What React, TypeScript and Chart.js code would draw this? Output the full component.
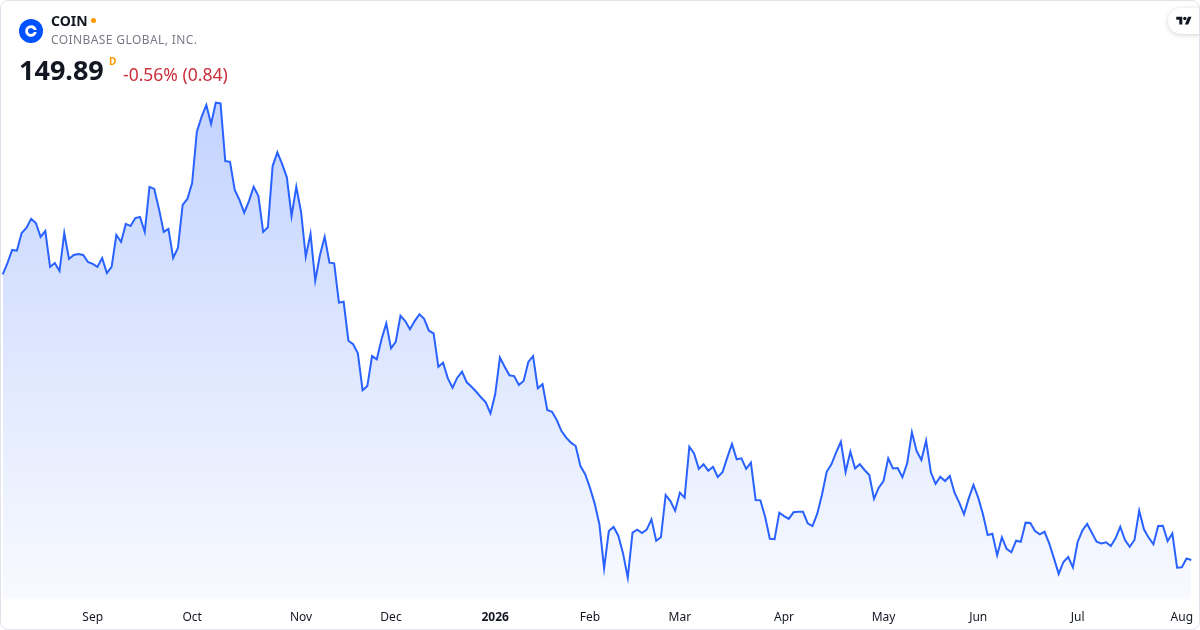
import React, { useEffect, useRef } from "react";
import { Chart, registerables } from "chart.js";

Chart.register(...registerables);

const ticker = "COIN";
const companyName = "COINBASE GLOBAL, INC.";
const lastPrice = "149.89";
const changeText = "-0.56% (0.84)";

const prices: number[] = [
  309.9, 316.2, 323.5, 323.1, 333.0, 335.8, 340.9, 338.6, 330.8, 334.1,
  314.0, 316.2, 311.7, 333.0, 318.5, 320.7, 321.3, 320.7, 316.8, 315.7,
  314.0, 319.0, 310.6, 314.0, 331.9, 328.0, 338.1, 336.9, 341.4, 342.0,
  333.6, 358.8, 357.7, 346.5, 333.6, 335.3, 319.0, 324.6, 348.7, 352.1,
  361.0, 389.7, 398.1, 404.7, 394.1, 406.0, 405.6, 373.3, 372.9, 357.1,
  351.5, 344.4, 350.9, 358.9, 353.7, 333.6, 336.2, 370.5, 378.2, 371.7,
  364.2, 342.5, 358.9, 344.9, 319.7, 332.5, 306.3, 320.7, 330.9, 316.4,
  316.0, 294.0, 294.5, 272.7, 270.7, 265.6, 244.9, 247.3, 264.1, 262.3,
  273.5, 282.4, 268.4, 272.1, 286.7, 283.7, 279.1, 283.7, 287.5, 284.9,
  278.3, 276.8, 258.1, 260.4, 251.6, 246.4, 252.0, 255.3, 249.4, 246.9,
  244.1, 241.0, 238.2, 232.0, 242.7, 263.2, 258.1, 253.3, 252.9, 247.9,
  250.1, 260.8, 264.1, 246.0, 248.3, 233.9, 232.9, 228.3, 222.1, 218.4,
  215.6, 213.7, 202.5, 197.9, 190.4, 181.6, 169.9, 145.2, 166.1, 168.4,
  163.5, 153.6, 140.0, 165.2, 166.9, 165.0, 166.9, 172.7, 160.7, 162.6,
  186.3, 182.9, 177.5, 187.6, 184.8, 213.3, 209.6, 200.9, 203.5, 199.9,
  202.1, 196.4, 199.0, 207.2, 214.9, 206.3, 206.8, 200.9, 204.4, 183.5,
  183.3, 174.1, 161.8, 161.5, 176.4, 174.5, 172.9, 176.6, 176.9, 176.9,
  170.4, 168.9, 175.7, 186.3, 199.3, 203.5, 210.2, 216.1, 199.2, 210.5,
  201.2, 203.5, 200.3, 197.5, 184.1, 190.4, 194.1, 206.8, 201.2, 201.4,
  196.2, 204.0, 221.4, 210.9, 205.9, 216.7, 199.0, 192.5, 196.5, 194.1,
  196.9, 187.6, 182.0, 175.5, 184.4, 191.9, 184.8, 175.5, 163.9, 164.6,
  152.5, 162.6, 156.1, 154.2, 160.7, 160.1, 170.8, 170.6, 166.1, 164.3,
  165.7, 159.2, 150.8, 142.1, 148.8, 151.6, 145.7, 160.0, 166.4, 170.1,
  165.2, 160.1, 159.2, 159.8, 157.7, 162.0, 168.5, 161.1, 157.3, 161.1,
  177.5, 167.1, 162.4, 158.7, 168.9, 169.1, 160.5, 164.8, 145.6, 145.8,
  150.73, 149.89,
];

const monthLabels: string[] = ["Sep", "Oct", "Nov", "Dec", "2026", "Feb", "Mar", "Apr", "May", "Jun", "Jul", "Aug"];
const monthStartIndex: number[] = [19, 40, 63, 82, 104, 124, 143, 165, 186, 206, 227, 249];

const yMin = 128.05;
const yMax = 463.49;

const FONT = "'Noto Sans', 'Open Sans', sans-serif";

export default function App() {
  const canvasRef = useRef<HTMLCanvasElement | null>(null);

  useEffect(() => {
    const canvas = canvasRef.current;
    if (!canvas) return;
    const chart = new Chart(canvas, {
      type: "line",
      data: {
        labels: prices.map((_, i) => String(i)),
        datasets: [
          {
            data: prices,
            borderColor: "#2962FF",
            borderWidth: 2,
            pointRadius: 0,
            pointHoverRadius: 0,
            tension: 0,
            fill: "start",
            backgroundColor: (ctx: any) => {
              const c = ctx.chart;
              const area = c.chartArea;
              if (!area) return "rgba(41,98,255,0.2)";
              const ys = c.scales.y;
              const top = ys.getPixelForValue(Math.max(...prices));
              const g = c.ctx.createLinearGradient(0, top, 0, area.bottom);
              g.addColorStop(0, "rgba(41,98,255,0.28)");
              g.addColorStop(1, "rgba(41,98,255,0.03)");
              return g;
            },
          },
        ],
      },
      options: {
        responsive: false,
        animation: false,
        events: [],
        layout: { autoPadding: false, padding: { left: 2.7, right: 8.7, top: 0, bottom: 6 } },
        plugins: { legend: { display: false }, tooltip: { enabled: false } },
        scales: {
          x: {
            type: "category",
            grid: { display: false, drawTicks: false },
            border: { display: false },
            afterFit: (scale: any) => {
              scale.paddingLeft = 0;
              scale.paddingRight = 0;
              scale.height = 25;
            },
            ticks: {
              autoSkip: false,
              maxRotation: 0,
              minRotation: 0,
              padding: 11,
              color: "#131722",
              font: (ctx: any) => ({
                family: FONT,
                size: 12,
                weight: ctx.tick && ctx.tick.label === "2026" ? "bold" : "normal",
              }),
              callback: (_v: any, index: number) => {
                const k = monthStartIndex.indexOf(index);
                return k >= 0 ? monthLabels[k] : "";
              },
            },
          },
          y: {
            display: false,
            min: yMin,
            max: yMax,
          },
        },
      },
    } as any);
    return () => chart.destroy();
  }, []);

  return (
    <div
      style={{
        position: "fixed",
        left: 0,
        top: 0,
        width: 1200,
        height: 630,
        background: "#ffffff",
        fontFamily: FONT,
      }}
    >
      <div
        style={{
          position: "absolute",
          inset: 0,
          border: "1px solid #e0e3eb",
          borderRadius: 8,
          boxSizing: "border-box",
          pointerEvents: "none",
          zIndex: 3,
        }}
      />
      <canvas
        ref={canvasRef}
        width={1200}
        height={630}
        style={{ position: "absolute", left: 0, top: 0, width: 1200, height: 630 }}
      />
      {/* header */}
      <div style={{ position: "absolute", left: 19, top: 19, width: 24, height: 24, zIndex: 2 }}>
        <svg width="24" height="24" viewBox="0 0 24 24">
          <circle cx="12" cy="12" r="12" fill="#0052FF" />
          <path
            d="M12 6.2a5.8 5.8 0 1 0 5.7 6.8h-2.9a3 3 0 1 1 0-2h2.9A5.8 5.8 0 0 0 12 6.2z"
            fill="#ffffff"
          />
        </svg>
      </div>
      <div
        style={{
          position: "absolute",
          left: 51,
          top: 11,
          fontSize: 14,
          fontWeight: 700,
          color: "#131722",
          lineHeight: "20px",
          zIndex: 2,
          whiteSpace: "nowrap",
        }}
      >
        {ticker}
      </div>
      <div
        style={{
          position: "absolute",
          left: 91,
          top: 18,
          width: 5,
          height: 5,
          borderRadius: 3,
          background: "#FF9800",
          zIndex: 2,
        }}
      />
      <div
        style={{
          position: "absolute",
          left: 51,
          top: 31,
          fontSize: 12,
          color: "#787B86",
          letterSpacing: 0.4,
          lineHeight: "18px",
          zIndex: 2,
          whiteSpace: "nowrap",
        }}
      >
        {companyName}
      </div>
      <div
        style={{
          position: "absolute",
          left: 19,
          top: 51,
          fontSize: 27,
          fontWeight: 700,
          color: "#131722",
          lineHeight: "37px",
          zIndex: 2,
          whiteSpace: "nowrap",
        }}
      >
        {lastPrice}
      </div>
      <div
        style={{
          position: "absolute",
          left: 109,
          top: 54,
          fontSize: 10,
          fontWeight: 700,
          color: "#FF9800",
          lineHeight: "14px",
          zIndex: 2,
        }}
      >
        D
      </div>
      <div
        style={{
          position: "absolute",
          left: 123,
          top: 62,
          fontSize: 17.5,
          color: "#CC2F3C",
          lineHeight: "24px",
          zIndex: 2,
          whiteSpace: "nowrap",
        }}
      >
        {changeText}
      </div>
      {/* logo pill */}
      <div
        style={{
          position: "absolute",
          left: 1168,
          top: 8,
          width: 44,
          height: 26,
          borderRadius: 13,
          background: "#ffffff",
          boxShadow: "0 1px 5px rgba(0,0,0,0.18)",
          zIndex: 2,
        }}
      >
        <svg
          width="16"
          height="12"
          viewBox="0 0 36 28"
          style={{ position: "absolute", left: 8, top: 7 }}
        >
          <path d="M14 22H7V11H0V4h14v18z" fill="#131722" />
          <circle cx="20" cy="8" r="4" fill="#131722" />
          <path d="M28 22h-8l7.5-18h8L28 22z" fill="#131722" />
        </svg>
      </div>
    </div>
  );
}
